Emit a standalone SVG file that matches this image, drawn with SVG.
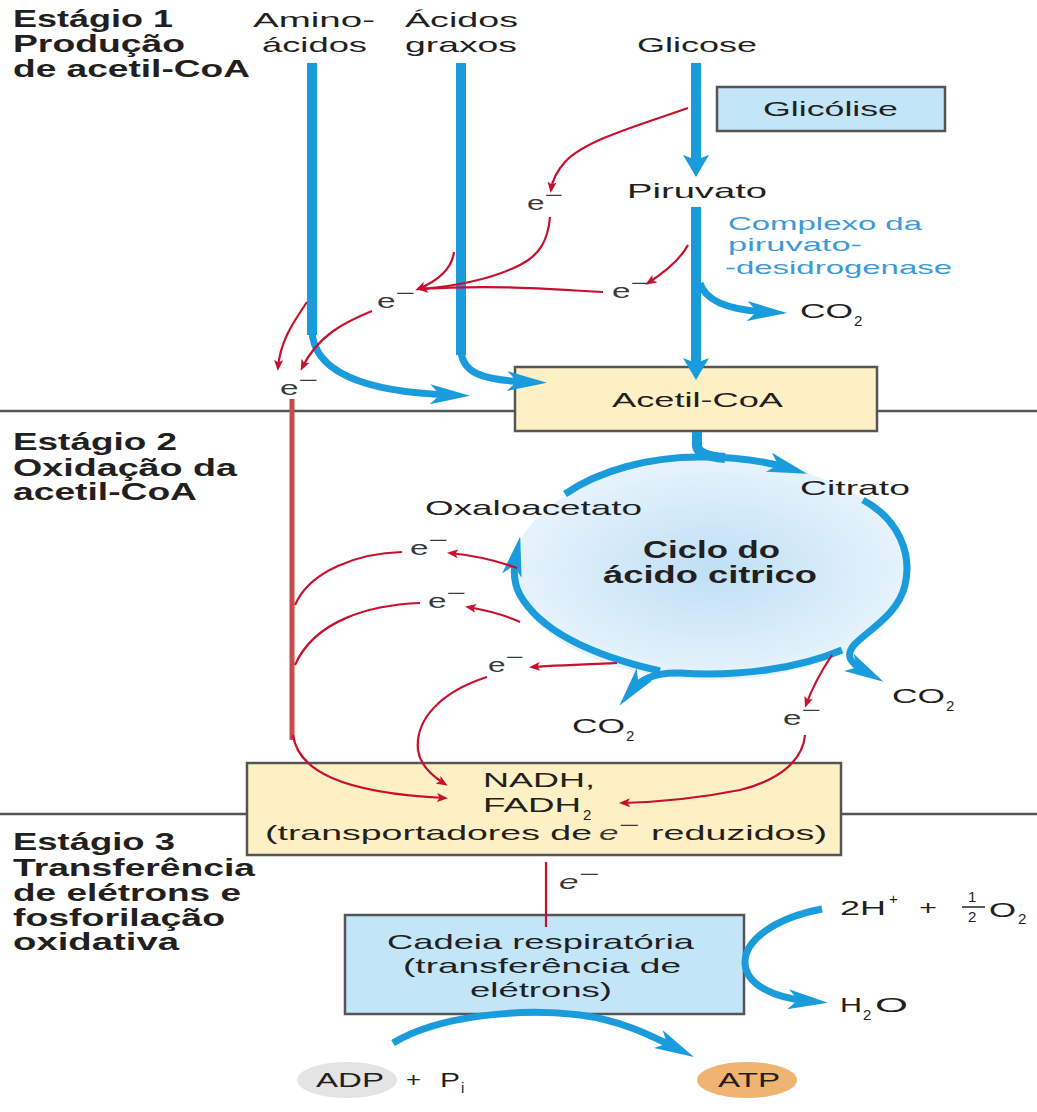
<svg xmlns="http://www.w3.org/2000/svg" width="1037" height="1112" viewBox="0 0 1037 1112">
<style>
.t{font-family:"Liberation Sans",Arial,sans-serif;font-size:21px;fill:#231f20}
.b{font-family:"Liberation Sans",Arial,sans-serif;font-size:23px;font-weight:bold;fill:#231f20}
.bl{font-family:"Liberation Sans",Arial,sans-serif;font-size:19px;fill:#3d9ad6}
.sub{font-family:"Liberation Sans",Arial,sans-serif;font-size:15px;fill:#231f20}
.el{font-family:"Liberation Sans",Arial,sans-serif;font-size:20px;fill:#3a3a3a}
.eli{font-family:"Liberation Sans",Arial,sans-serif;font-size:20px;font-style:italic;fill:#3a3a3a}
.div{stroke:#555;stroke-width:2.5;fill:none}
.bv{stroke:#1a9bdc;stroke-width:10;fill:none}
.bc{stroke:#1a9bdc;stroke-width:7;fill:none}
.r{stroke:#c8102e;stroke-width:2.2;fill:none}
.rt{stroke:#c84a4a;stroke-width:5;fill:none}
.boxy{fill:#fdf0c4;stroke:#555;stroke-width:2.5}
.boxb{fill:#c2e5f8;stroke:#555;stroke-width:2.5}
</style>
<defs>
<marker id="ab" markerUnits="userSpaceOnUse" markerWidth="40" markerHeight="20" refX="20" refY="10" orient="auto" viewBox="0 0 40 20">
<path d="M0,0 L40,10 L0,20 L10,10 z" fill="#1a9bdc"/>
</marker>
<marker id="ad" markerUnits="userSpaceOnUse" markerWidth="22" markerHeight="26" refX="6" refY="13" orient="auto" viewBox="0 0 22 26">
<path d="M0,0 L22,13 L0,26 L5,13 z" fill="#1a9bdc"/>
</marker>
<marker id="ar" markerUnits="userSpaceOnUse" markerWidth="11" markerHeight="9" refX="8" refY="4.5" orient="auto" viewBox="0 0 11 9">
<path d="M0,0 L11,4.5 L0,9 L2.5,4.5 z" fill="#c8102e"/>
</marker>
<radialGradient id="cg" cx="0.5" cy="0.5" r="0.5">
<stop offset="0" stop-color="#bfdff5"/>
<stop offset="1" stop-color="#e6f3fc"/>
</radialGradient>
</defs>

<rect width="1037" height="1112" fill="#ffffff"/>

<g id="dividers">
<line class="div" x1="0" y1="411" x2="515" y2="411"/>
<line class="div" x1="877" y1="411" x2="1037" y2="411"/>
<line class="div" x1="0" y1="814" x2="247" y2="814"/>
<line class="div" x1="841" y1="814" x2="1037" y2="814"/>
</g>

<g id="stage-labels">
<text class="b" x="13" y="27" textLength="160" lengthAdjust="spacingAndGlyphs">Estágio 1</text>
<text class="b" x="13" y="52" textLength="172" lengthAdjust="spacingAndGlyphs">Produção</text>
<text class="b" x="13" y="77" textLength="237" lengthAdjust="spacingAndGlyphs">de acetil-CoA</text>
<text class="b" x="13" y="450" textLength="164" lengthAdjust="spacingAndGlyphs">Estágio 2</text>
<text class="b" x="13" y="476" textLength="224" lengthAdjust="spacingAndGlyphs">Oxidação da</text>
<text class="b" x="13" y="500" textLength="184" lengthAdjust="spacingAndGlyphs">acetil-CoA</text>
<text class="b" x="13" y="850" textLength="162" lengthAdjust="spacingAndGlyphs">Estágio 3</text>
<text class="b" x="13" y="876" textLength="242" lengthAdjust="spacingAndGlyphs">Transferência</text>
<text class="b" x="13" y="901" textLength="228" lengthAdjust="spacingAndGlyphs">de elétrons e</text>
<text class="b" x="13" y="926" textLength="212" lengthAdjust="spacingAndGlyphs">fosforilação</text>
<text class="b" x="13" y="950" textLength="166" lengthAdjust="spacingAndGlyphs">oxidativa</text>
</g>

<g id="cycle">
<ellipse cx="712" cy="570" rx="199" ry="110" fill="url(#cg)"/>
<text class="b" x="643" y="558" font-size="21" textLength="137" lengthAdjust="spacingAndGlyphs">Ciclo do</text>
<text class="b" x="603" y="583" font-size="21" textLength="214" lengthAdjust="spacingAndGlyphs">ácido citrico</text>
</g>

<g id="sources">
<text class="t" x="253" y="27" textLength="122" lengthAdjust="spacingAndGlyphs">Amino-</text>
<text class="t" x="262" y="52" textLength="105" lengthAdjust="spacingAndGlyphs">ácidos</text>
<text class="t" x="405" y="27" textLength="113" lengthAdjust="spacingAndGlyphs">Ácidos</text>
<text class="t" x="405" y="52" textLength="112" lengthAdjust="spacingAndGlyphs">graxos</text>
<text class="t" x="637" y="52" textLength="120" lengthAdjust="spacingAndGlyphs">Glicose</text>
</g>

<g id="glicolise">
<rect class="boxb" x="717" y="87" width="228" height="44"/>
<text class="t" x="763" y="116" textLength="135" lengthAdjust="spacingAndGlyphs">Glicólise</text>
</g>

<g id="piruvato">
<text class="t" x="627" y="198" textLength="140" lengthAdjust="spacingAndGlyphs">Piruvato</text>
</g>

<g id="complexo">
<text class="bl" x="728" y="230" textLength="194" lengthAdjust="spacingAndGlyphs">Complexo da</text>
<text class="bl" x="728" y="251" textLength="134" lengthAdjust="spacingAndGlyphs">piruvato-</text>
<text class="bl" x="725" y="274" textLength="227" lengthAdjust="spacingAndGlyphs">-desidrogenase</text>
</g>

<g id="co2-top">
<text class="t" x="800" y="318" textLength="53" lengthAdjust="spacingAndGlyphs">CO</text>
<text class="sub" x="854" y="326">2</text>
</g>

<g id="acetil-coa">
<rect class="boxy" x="515" y="367" width="362" height="64"/>
<text class="t" x="612" y="407" font-size="22" textLength="171" lengthAdjust="spacingAndGlyphs">Acetil-CoA</text>
</g>

<g id="citrato">
<text class="t" x="800" y="495" font-size="22" textLength="110" lengthAdjust="spacingAndGlyphs">Citrato</text>
</g>

<g id="oxaloacetato">
<text class="t" x="425" y="515" font-size="22" textLength="217" lengthAdjust="spacingAndGlyphs">Oxaloacetato</text>
</g>

<g id="co2-left">
<text class="t" x="572" y="733" textLength="53" lengthAdjust="spacingAndGlyphs">CO</text>
<text class="sub" x="626" y="741">2</text>
</g>

<g id="co2-right">
<text class="t" x="892" y="703" textLength="53" lengthAdjust="spacingAndGlyphs">CO</text>
<text class="sub" x="946" y="711">2</text>
</g>

<g id="nadh">
<rect class="boxy" x="247" y="763" width="594" height="92"/>
<text class="t" x="483" y="787" font-size="22" textLength="112" lengthAdjust="spacingAndGlyphs">NADH,</text>
<text class="t" x="483" y="812" font-size="22" textLength="98" lengthAdjust="spacingAndGlyphs">FADH</text>
<text class="sub" x="583" y="820">2</text>
<text class="t" x="265" y="840" font-size="22" textLength="327" lengthAdjust="spacingAndGlyphs">(transportadores de</text>
<text class="eli" x="599" y="840" font-size="22" textLength="40" lengthAdjust="spacingAndGlyphs">e<tspan dy="-8">−</tspan></text>
<text class="t" x="651" y="840" font-size="22" textLength="176" lengthAdjust="spacingAndGlyphs">reduzidos)</text>
</g>

<g id="cadeia">
<rect class="boxb" x="345" y="915" width="399" height="99"/>
<text class="t" x="387" y="949" font-size="22" textLength="307" lengthAdjust="spacingAndGlyphs">Cadeia respiratória</text>
<text class="t" x="403" y="973" font-size="22" textLength="278" lengthAdjust="spacingAndGlyphs">(transferência de</text>
<text class="t" x="470" y="997" font-size="22" textLength="142" lengthAdjust="spacingAndGlyphs">elétrons)</text>
</g>

<g id="oxygen">
<text class="t" x="840" y="915" textLength="46" lengthAdjust="spacingAndGlyphs">2H</text>
<text class="sub" x="889" y="904">+</text>
<text class="t" x="919" y="915" textLength="18" lengthAdjust="spacingAndGlyphs">+</text>
<text class="sub" x="968" y="902" font-size="13">1</text>
<line x1="962" y1="907" x2="985" y2="907" stroke="#231f20" stroke-width="1.5"/>
<text class="sub" x="968" y="922" font-size="13">2</text>
<text class="t" x="989" y="917" textLength="27" lengthAdjust="spacingAndGlyphs">O</text>
<text class="sub" x="1018" y="924">2</text>
</g>

<g id="water">
<text class="t" x="840" y="1012" textLength="22" lengthAdjust="spacingAndGlyphs">H</text>
<text class="sub" x="863" y="1020">2</text>
<text class="t" x="875" y="1012" textLength="33" lengthAdjust="spacingAndGlyphs">O</text>
</g>

<g id="adp">
<ellipse cx="347" cy="1080" rx="50" ry="18" fill="#e4e4e4"/>
<text class="t" x="316" y="1087" textLength="68" lengthAdjust="spacingAndGlyphs">ADP</text>
<text class="t" x="406" y="1087" textLength="15" lengthAdjust="spacingAndGlyphs">+</text>
<text class="t" x="440" y="1087" textLength="20" lengthAdjust="spacingAndGlyphs">P</text>
<text class="sub" x="461" y="1093" font-size="13">i</text>
</g>

<g id="atp">
<ellipse cx="747" cy="1080" rx="50" ry="18" fill="#f0b472"/>
<text class="t" x="718" y="1087" textLength="62" lengthAdjust="spacingAndGlyphs">ATP</text>
</g>

<g id="connectors">
<!-- blue -->
<path class="bv" d="M312,63 V335"/>
<path class="bc" d="M312,330 C313,372 365,392 450,395" marker-end="url(#ab)"/>
<path class="bv" d="M461,63 V355"/>
<path class="bc" d="M461,350 C462,372 480,380 527,382" marker-end="url(#ab)"/>
<path class="bv" d="M696,63 V161" marker-end="url(#ad)"/>
<path class="bv" d="M696,207 V364" marker-end="url(#ad)"/>
<path class="bc" stroke-width="6" d="M700,283 C705,300 725,310 767,312" marker-end="url(#ab)"/>
<path class="bv" stroke-width="9" d="M697,432 V446 Q698,456 725,458"/>
<path class="bc" d="M565,494 C600,470 650,457 700,457 C740,457 765,461 788,468" marker-end="url(#ab)"/>
<path class="bc" d="M863,500 C900,520 912,555 905,585 C898,615 868,630 854,645 C846,655 848,662 866,672" marker-end="url(#ab)"/>
<path class="bc" d="M842,650 C800,668 740,677 680,673 C655,672 640,680 632,690" marker-end="url(#ab)"/>
<path class="bc" d="M660,671 C590,655 540,630 520,595 C513,582 513,570 516,556" marker-end="url(#ab)"/>
<path class="bc" d="M822,909 C775,918 745,940 745,962 C745,985 775,998 808,1001" marker-end="url(#ab)"/>
<path class="bc" d="M393,1043 C440,1015 520,1008 580,1015 C620,1020 650,1035 676,1048" marker-end="url(#ab)"/>
<!-- red stage 1 -->
<path class="r" d="M688,108 C640,125 585,140 565,162 C556,172 552,182 551,190" marker-end="url(#ar)"/>
<path class="r" d="M550,217 C548,240 540,255 520,265 C500,275 470,285 420,289" marker-end="url(#ar)"/>
<path class="r" d="M603,292 C560,290 500,284 420,289"/>
<path class="r" d="M688,245 C680,260 665,272 648,283" marker-end="url(#ar)"/>
<path class="r" d="M454,252 C452,268 440,280 418,289" marker-end="url(#ar)"/>
<path class="r" d="M372,311 C345,322 318,335 302,368" marker-end="url(#ar)"/>
<path class="r" d="M307,302 C295,320 280,340 278,368" marker-end="url(#ar)"/>
<path class="rt" d="M292,399 V740"/>
<path class="r" d="M293,735 C298,770 340,793 445,798" marker-end="url(#ar)"/>
<!-- red stage 2 -->
<path class="r" d="M517,568 C495,560 470,555 450,553" marker-end="url(#ar)"/>
<path class="r" d="M402,552 C360,553 310,570 295,605"/>
<path class="r" d="M520,622 C505,615 485,610 468,607" marker-end="url(#ar)"/>
<path class="r" d="M420,603 C370,605 315,620 295,665"/>
<path class="r" d="M617,663 C590,664 560,665 532,667" marker-end="url(#ar)"/>
<path class="r" d="M487,677 C440,692 415,720 418,750 C420,765 432,776 445,784" marker-end="url(#ar)"/>
<path class="r" d="M832,655 C822,670 812,688 806,705" marker-end="url(#ar)"/>
<path class="r" d="M805,735 C803,760 780,780 740,790 C700,798 660,802 622,803" marker-end="url(#ar)"/>
<!-- red stage 3 -->
<path class="r" stroke-width="3" d="M546,862 V927"/>
</g>

<g id="electron-labels">
<text class="el" x="527" y="210" textLength="36" lengthAdjust="spacingAndGlyphs">e<tspan dy="-8">−</tspan></text>
<text class="el" x="612" y="298" textLength="38" lengthAdjust="spacingAndGlyphs">e<tspan dy="-8">−</tspan></text>
<text class="el" x="377" y="308" textLength="38" lengthAdjust="spacingAndGlyphs">e<tspan dy="-8">−</tspan></text>
<text class="el" x="280" y="395" textLength="38" lengthAdjust="spacingAndGlyphs">e<tspan dy="-8">−</tspan></text>
<text class="el" x="410" y="555" textLength="38" lengthAdjust="spacingAndGlyphs">e<tspan dy="-8">−</tspan></text>
<text class="el" x="428" y="608" textLength="38" lengthAdjust="spacingAndGlyphs">e<tspan dy="-8">−</tspan></text>
<text class="el" x="488" y="672" textLength="36" lengthAdjust="spacingAndGlyphs">e<tspan dy="-8">−</tspan></text>
<text class="el" x="783" y="725" textLength="38" lengthAdjust="spacingAndGlyphs">e<tspan dy="-8">−</tspan></text>
<text class="eli" x="559" y="889" textLength="40" lengthAdjust="spacingAndGlyphs">e<tspan dy="-8">−</tspan></text>
</g>
</svg>
